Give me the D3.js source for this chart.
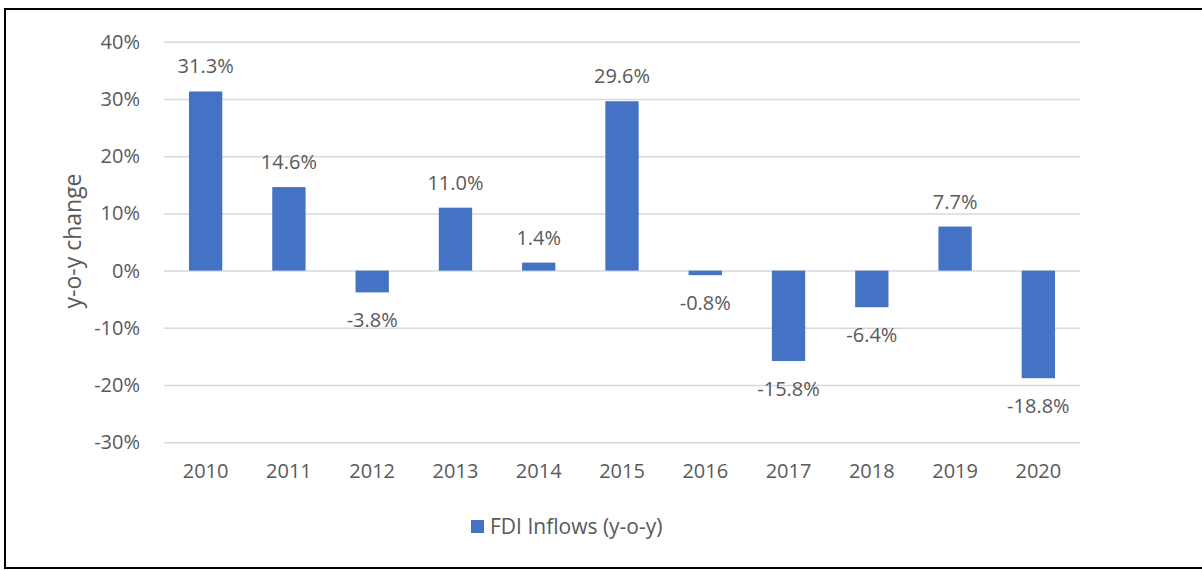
<!DOCTYPE html>
<html>
<head>
<meta charset="utf-8">
<script src="https://cdn.jsdelivr.net/npm/d3@7"></script>
<style>
    body { margin: 0; background: #fff; }
    svg text { font-family: "Open Sans", "Noto Sans", sans-serif; fill: #595959; }
</style>
</head>
<body>
<div id="chart"></div>
<script>
// values
const years = ["2010", "2011", "2012", "2013", "2014", "2015", "2016", "2017", "2018", "2019", "2020"];
const fdiChange = [31.3, 14.6, -3.8, 11.0, 1.4, 29.6, -0.8, -15.8, -6.4, 7.7, -18.8];
const yTicks = [-30, -20, -10, 0, 10, 20, 30, 40];
const seriesName = "FDI Inflows (y-o-y)";
const axisTitle = "y-o-y change";

const W = 1202, H = 570;
const margin = {top: 41.7, right: 122, bottom: 127.7, left: 164};

const svg = d3.select("#chart").append("svg")
    .attr("width", W).attr("height", H);

// outer frame (top, left, bottom visible)
svg.append("path")
    .attr("d", "M" + W + ",9H5V568H" + W)
    .attr("fill", "none").attr("stroke", "#000").attr("stroke-width", 2);

const x = d3.scaleBand().domain(years)
    .range([margin.left, W - margin.right])
    .paddingInner(0.6).paddingOuter(0.3);

const y = d3.scaleLinear().domain([-30, 40])
    .range([H - margin.bottom, margin.top]);

// gridlines + y labels
const yAxis = svg.append("g").attr("class", "y-axis")
    .attr("transform", "translate(" + margin.left + ",0)")
    .call(d3.axisLeft(y).tickValues(yTicks).tickSize(-(W - margin.right - margin.left))
        .tickFormat(d => d + "%").tickPadding(24));
yAxis.select(".domain").remove();
yAxis.selectAll(".tick line").attr("stroke", "#d9d9d9").attr("stroke-width", 1.5);
yAxis.selectAll(".tick text").style("font-size", "20px");

// bars
svg.append("g").selectAll("rect")
    .data(fdiChange)
    .join("rect")
    .attr("x", (d, i) => x(years[i]))
    .attr("width", x.bandwidth())
    .attr("y", d => y(Math.max(0, d)))
    .attr("height", d => Math.abs(y(d) - y(0)))
    .attr("fill", "#4472c4");

// data labels
svg.append("g").selectAll("text")
    .data(fdiChange)
    .join("text")
    .attr("x", (d, i) => x(years[i]) + x.bandwidth() / 2)
    .attr("y", d => d >= 0 ? y(d) - 25 : y(d) + 28)
    .attr("dy", "0.35em")
    .attr("text-anchor", "middle")
    .style("font-size", "20px")
    .text(d => d.toFixed(1) + "%");

// x labels
svg.append("g").selectAll("text")
    .data(years)
    .join("text")
    .attr("x", d => x(d) + x.bandwidth() / 2)
    .attr("y", 471)
    .attr("dy", "0.35em")
    .attr("text-anchor", "middle")
    .style("font-size", "20px")
    .text(d => d);

// y axis title
svg.append("text")
    .attr("transform", "translate(73,241) rotate(-90)")
    .attr("dy", "0.35em")
    .attr("text-anchor", "middle")
    .style("font-size", "23px")
    .text(axisTitle);

// legend
const legend = svg.append("g").attr("transform", "translate(471,520)");
legend.append("rect").attr("width", 13).attr("height", 13).attr("fill", "#4472c4");
legend.append("text").attr("x", 19).attr("y", 7).attr("dy", "0.35em")
    .style("font-size", "21px").text(seriesName);
</script>
</body>
</html>
